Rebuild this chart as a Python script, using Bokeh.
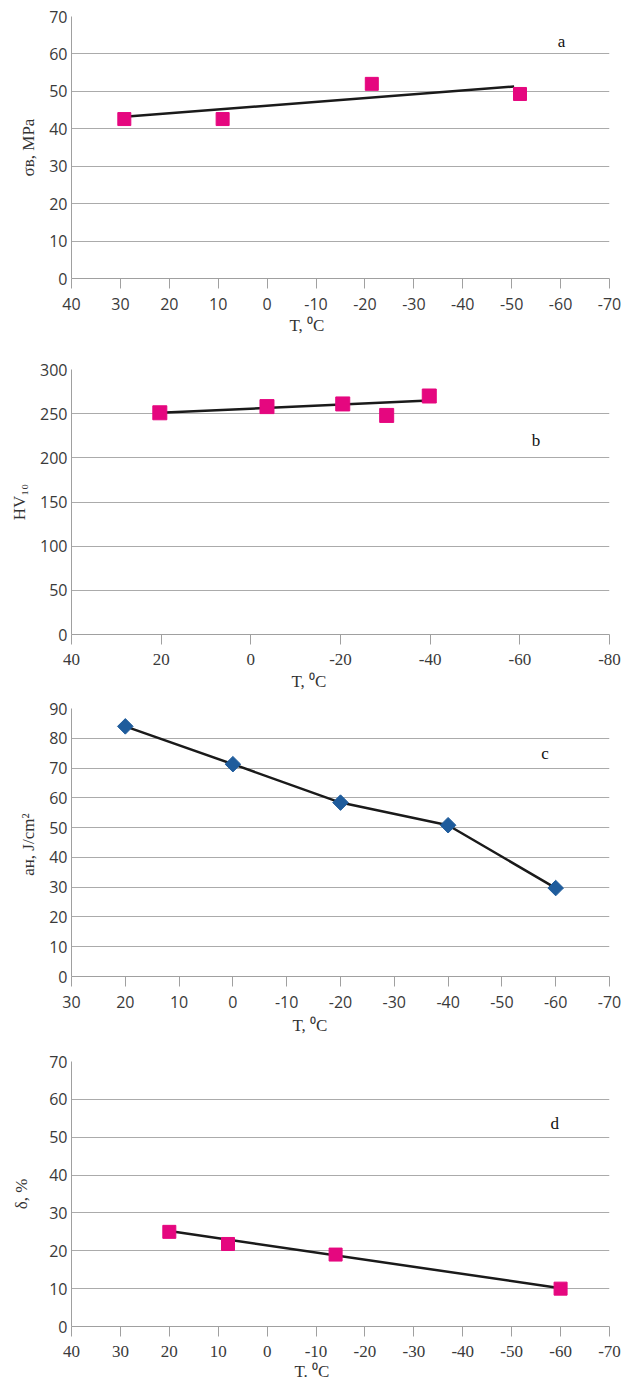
from bokeh.plotting import figure
from bokeh.layouts import column
from bokeh.models import Range1d, FixedTicker, Label, Title, PrintfTickFormatter
from bokeh.embed import file_html
from bokeh.resources import INLINE

# ---------------- data ----------------
# panel a: ultimate strength vs temperature
a_T = [29.2, 9.1, -21.4, -51.7]
a_sigma = [42.6, 42.6, 52.0, 49.3]
a_trend_T = [29.2, -50.5]
a_trend_sigma = [43.2, 51.3]

# panel b: hardness HV10 vs temperature
b_T = [20.3, -3.6, -20.5, -30.3, -39.8]
b_HV = [251, 258, 261, 248, 270]
b_trend_T = [20.3, -38.5]
b_trend_HV = [251, 264.5]

# panel c: impact toughness vs temperature
c_T = [20, 0, -20, -40, -60]
c_aH = [84.0, 71.3, 58.4, 50.8, 29.7]

# panel d: elongation vs temperature
d_T = [20, 8, -14, -60]
d_delta = [25.0, 21.8, 19.0, 10.0]
d_trend_T = [20, -59]
d_trend_delta = [25.2, 10.3]

# axes / ticks
a_xticks = [40, 30, 20, 10, 0, -10, -20, -30, -40, -50, -60, -70]
a_yticks = [0, 10, 20, 30, 40, 50, 60, 70]
b_xticks = [40, 20, 0, -20, -40, -60, -80]
b_yticks = [0, 50, 100, 150, 200, 250, 300]
c_xticks = [30, 20, 10, 0, -10, -20, -30, -40, -50, -60, -70]
c_yticks = [0, 10, 20, 30, 40, 50, 60, 70, 80, 90]
d_xticks = [40, 30, 20, 10, 0, -10, -20, -30, -40, -50, -60, -70]
d_yticks = [0, 10, 20, 30, 40, 50, 60, 70]

x_title_a = "T, \u2070C"
x_title_d = "T. \u2070C"
y_title_a = "\u03c3\u0432, MPa"
y_title_b = "HV\u2081\u2080"
y_title_c = "a\u043d,  J/cm\u00b2"
y_title_d = "\u03b4, %"

MAGENTA = "#E5077F"
BLUE = "#1F5C9C"
GRID = "#ABABAB"
AXIS = "#A0A0A0"
TICKTXT = "#3A3A3A"
SANS = "Open Sans"
SERIF = "Liberation Serif"

W = 625


def panel(height, left, right, top, bottom, xr, yr, xticks, yticks, ytitle,
          xtitle, xtitle_offset, letter, letter_pos, xfont=SANS, xfont_size="16px",
          ylabel_standoff=8, title_standoff=0):
    p = figure(width=W, height=height, output_backend="svg", toolbar_location=None,
               x_range=Range1d(*xr), y_range=Range1d(*yr),
               min_border_left=left, min_border_right=right,
               min_border_top=top, min_border_bottom=bottom)
    p.outline_line_color = None
    p.xgrid.visible = False
    p.ygrid.grid_line_color = GRID
    p.ygrid.grid_line_width = 1
    p.ygrid.ticker = FixedTicker(ticks=yticks)

    xa = p.xaxis[0]
    xa.ticker = FixedTicker(ticks=xticks)
    xa.formatter = PrintfTickFormatter(format="%d")
    xa.axis_line_color = AXIS
    xa.major_tick_line_color = AXIS
    xa.major_tick_out = 10
    xa.major_tick_in = 0
    xa.minor_tick_line_color = None
    xa.major_label_text_font = xfont
    xa.major_label_text_font_size = xfont_size
    xa.major_label_text_color = TICKTXT
    xa.major_label_standoff = 9

    ya = p.yaxis[0]
    ya.ticker = FixedTicker(ticks=yticks)
    ya.formatter = PrintfTickFormatter(format="%d")
    ya.axis_line_color = AXIS
    ya.major_tick_line_color = None
    ya.major_tick_out = 0
    ya.major_tick_in = 0
    ya.minor_tick_line_color = None
    ya.major_label_text_font = SANS
    ya.major_label_text_font_size = "16px"
    ya.major_label_text_color = TICKTXT
    ya.major_label_standoff = 4
    ya.axis_label = ytitle
    ya.axis_label_text_font = SERIF
    ya.axis_label_text_font_size = "17px"
    ya.axis_label_text_font_style = "normal"
    ya.axis_label_text_color = "#333333"
    ya.axis_label_standoff = ylabel_standoff

    p.add_layout(Title(text=xtitle, align="left", offset=xtitle_offset,
                       text_font=SERIF, text_font_size="17px", text_font_style="normal",
                       text_color="#333333", standoff=title_standoff), "below")
    p.add_layout(Label(x=letter_pos[0], y=letter_pos[1], text=letter, text_font=SERIF,
                       text_font_size="17px", text_color="#111111",
                       text_align="center", text_baseline="middle"))
    return p


pa = panel(349, 71, 16, 16, 71, (40, -70), (0, 70), a_xticks, a_yticks, y_title_a,
           x_title_a, 218, "a", (-60.2, 63.2), title_standoff=3)
pa.line(a_trend_T, a_trend_sigma, line_color="#1A1A1A", line_width=2.5)
pa.scatter(a_T, a_sigma, marker="square", size=13, fill_color=MAGENTA, line_color=MAGENTA)

pb = panel(349, 69, 13, 20, 64, (40, -80), (0, 300), b_xticks, b_yticks, y_title_b,
           x_title_a, 220, "b", (-63.6, 219.5), xfont=SERIF, xfont_size="17px",
           title_standoff=4)
pb.line(b_trend_T, b_trend_HV, line_color="#1A1A1A", line_width=2.5)
pb.scatter(b_T, b_HV, marker="square", size=14, fill_color=MAGENTA, line_color=MAGENTA)

pc = panel(344, 68, 13, 10, 66, (30, -70), (0, 90), c_xticks, c_yticks, y_title_c,
           x_title_a, 221, "c", (-58, 74.9), title_standoff=6)
pc.line(c_T, c_aH, line_color="#1A1A1A", line_width=2.5)
pc.scatter(c_T, c_aH, marker="square", angle=0.7854, size=11, fill_color=BLUE, line_color=BLUE)

pd = panel(343, 64, 15, 19, 59, (40, -70), (0, 70), d_xticks, d_yticks, y_title_d,
           x_title_d, 223, "d", (-58.8, 53.5), xfont=SERIF, xfont_size="17px",
           ylabel_standoff=15, title_standoff=0)
pd.line(d_trend_T, d_trend_delta, line_color="#1A1A1A", line_width=2.5)
pd.scatter(d_T, d_delta, marker="square", size=13, fill_color=MAGENTA, line_color=MAGENTA)

layout = column(pa, pb, pc, pd, spacing=0)
open("out.html", "w").write(file_html(layout, INLINE))
